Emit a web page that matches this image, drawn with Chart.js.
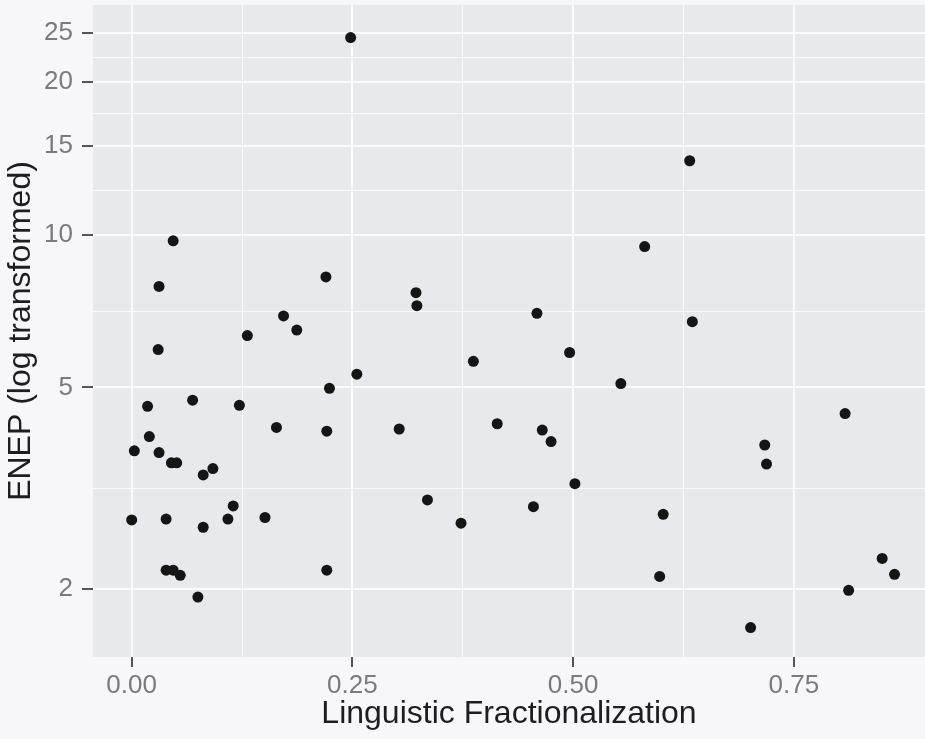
<!DOCTYPE html>
<html>
<head>
<meta charset="utf-8">
<script src="https://cdn.jsdelivr.net/npm/chart.js@4"></script>
<style>
  html, body { margin: 0; padding: 0; background: #f7f7f9; }
  canvas { display: block; }
</style>
</head>
<body>
<canvas id="chart" width="925" height="739"></canvas>
<script>
// Linguistic fractionalization (x) vs ENEP (y, log scale)
const fractionalization = [
  0.248, 0.047, 0.031, 0.220, 0.172, 0.187, 0.131, 0.030, 0.255, 0.224,
  0.069, 0.018, 0.122, 0.164, 0.221, 0.020, 0.003, 0.031, 0.045, 0.051,
  0.092, 0.081, 0.115, 0.000, 0.039, 0.109, 0.151, 0.081, 0.039, 0.047,
  0.055, 0.075, 0.221, 0.322, 0.323, 0.459, 0.581, 0.387, 0.496, 0.554,
  0.303, 0.414, 0.465, 0.475, 0.502, 0.335, 0.455, 0.373, 0.632, 0.635,
  0.808, 0.717, 0.719, 0.602, 0.598, 0.701, 0.850, 0.864, 0.812
]
const enep = [
  24.5, 9.73, 7.91, 8.26, 6.92, 6.49, 6.33, 5.94, 5.31, 4.98,
  4.72, 4.59, 4.61, 4.17, 4.10, 4.00, 3.75, 3.72, 3.55, 3.55,
  3.46, 3.36, 2.92, 2.74, 2.75, 2.75, 2.77, 2.65, 2.18, 2.18,
  2.13, 1.93, 2.18, 7.69, 7.25, 7.00, 9.48, 5.63, 5.86, 5.09,
  4.14, 4.24, 4.12, 3.91, 3.23, 3.00, 2.91, 2.70, 14.0, 6.74,
  4.44, 3.85, 3.53, 2.81, 2.12, 1.68, 2.30, 2.14, 1.99
]

const xTicks = [0, 0.25, 0.5, 0.75]
const xMinorTicks = [0.125, 0.375, 0.625]
const yTicks = [2, 5, 10, 15, 20, 25]
const yMinorTicks = [3.162, 7.071, 12.247, 17.321, 22.361]

const isMajor = (list, v) => list.some(t => Math.abs(t - v) < 1e-6)

const panelBackground = {
  id: "panelBackground",
  beforeDraw(chart) {
    const { ctx, chartArea: a } = chart
    ctx.save()
    ctx.fillStyle = "#f7f7f9"
    ctx.fillRect(0, 0, chart.width, chart.height)
    ctx.fillStyle = "#e8e9ed"
    ctx.fillRect(a.left, a.top, a.right - a.left, a.bottom - a.top)
    ctx.restore()
  }
}

const tickFont = { family: "'Liberation Sans', Arial, sans-serif", size: 26 }
const titleFont = { family: "'Liberation Sans', Arial, sans-serif", size: 32 }

new Chart(document.getElementById("chart").getContext("2d"), {
  type: "scatter",
  data: {
    datasets: [{
      data: fractionalization.map((x, i) => ({ x, y: enep[i] })),
      backgroundColor: "#151515",
      borderColor: "#151515",
      borderWidth: 0,
      pointRadius: 5.5,
      clip: false
    }]
  },
  options: {
    responsive: false,
    animation: false,
    layout: { autoPadding: false, padding: { top: 5, right: 0, left: 0, bottom: 0 } },
    plugins: { legend: { display: false }, tooltip: { enabled: false } },
    scales: {
      x: {
        type: "linear",
        min: -0.0438,
        max: 0.8985,
        afterBuildTicks: (scale) => {
          scale.ticks = xTicks.concat(xMinorTicks).sort((a, b) => a - b).map(value => ({ value }))
        },
        afterFit: (scale) => {
          scale.height = 82
          scale.paddingLeft = 0
          scale.paddingRight = 0
        },
        border: { display: false },
        grid: {
          color: "#fbfbfd",
          lineWidth: (ctx) => isMajor(xTicks, ctx.tick.value) ? 2 : 1,
          tickLength: 10,
          tickColor: (ctx) => isMajor(xTicks, ctx.tick.value) ? "#555" : "rgba(0,0,0,0)",
          tickWidth: 2
        },
        ticks: {
          font: tickFont,
          color: "#7a7a7a",
          padding: 3,
          maxRotation: 0,
          autoSkip: false,
          callback: (value) => isMajor(xTicks, value) ? Number(value).toFixed(2) : ""
        },
        title: {
          display: true,
          text: "Linguistic Fractionalization",
          font: titleFont,
          color: "#1e1e1e",
          padding: { top: 0, bottom: 6 }
        }
      },
      y: {
        type: "logarithmic",
        min: 1.47,
        max: 28.4,
        afterBuildTicks: (scale) => {
          scale.ticks = yTicks.concat(yMinorTicks).sort((a, b) => a - b).map(value => ({ value }))
        },
        afterFit: (scale) => {
          scale.width = 93
          scale.paddingTop = 0
          scale.paddingBottom = 0
        },
        border: { display: false },
        grid: {
          color: "#fbfbfd",
          lineWidth: (ctx) => isMajor(yTicks, ctx.tick.value) ? 2 : 1,
          tickLength: 11,
          tickColor: (ctx) => isMajor(yTicks, ctx.tick.value) ? "#555" : "rgba(0,0,0,0)",
          tickWidth: 2
        },
        ticks: {
          font: tickFont,
          color: "#7a7a7a",
          padding: 9,
          autoSkip: false,
          callback: (value) => isMajor(yTicks, value) ? String(value) : ""
        },
        title: {
          display: true,
          text: "ENEP (log transformed)",
          font: titleFont,
          color: "#1e1e1e",
          padding: { top: 2, bottom: 0 }
        }
      }
    }
  },
  plugins: [panelBackground]
})
</script>
</body>
</html>
